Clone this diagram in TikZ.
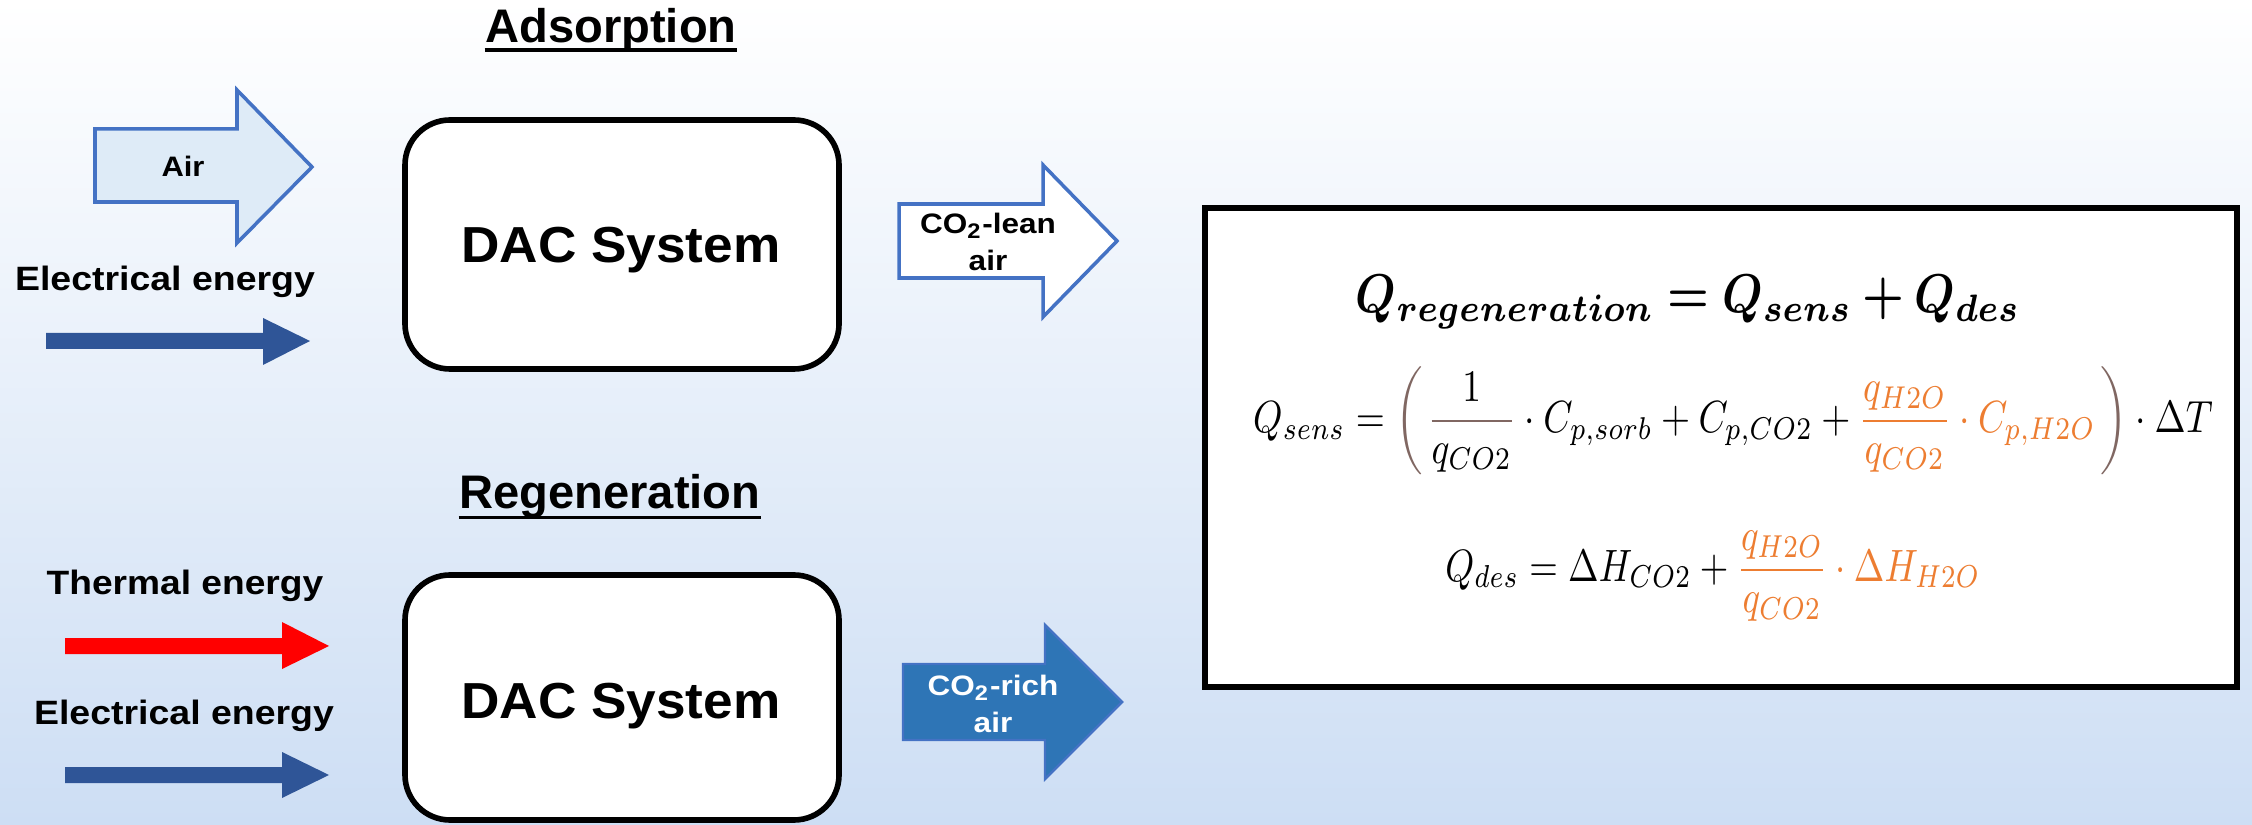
\documentclass[tikz,border=0pt]{standalone}
\usepackage[no-math]{fontspec}
\setmainfont{Liberation Sans}
\usepackage{graphicx}
\usepackage{bm}
\usepackage{xcolor}
\definecolor{bgblue}{RGB}{205,222,244}
\definecolor{airfill}{RGB}{222,235,247}
\definecolor{outblue}{RGB}{68,114,196}
\definecolor{darkblue}{RGB}{47,85,151}
\definecolor{richblue}{RGB}{46,117,182}
\definecolor{orng}{RGB}{237,125,49}
\definecolor{brownc}{RGB}{128,103,98}
\newcommand{\wide}[2]{\scalebox{#1}[1]{#2}}
\begin{document}
\begin{tikzpicture}[x=0.01cm,y=-0.01cm,
  lbl/.style={inner sep=0pt,font=\bfseries},
  titlelbl/.style={lbl,font=\fontsize{13.4}{15}\selectfont\bfseries},
  energylbl/.style={lbl,font=\fontsize{9.6}{11}\selectfont\bfseries},
  dacbox/.style={draw=black,line width=1.6pt,fill=white,rounded corners=0.45cm},
  daclbl/.style={lbl,font=\fontsize{14.4}{16}\selectfont\bfseries},
  smalllbl/.style={lbl,align=center,font=\fontsize{8}{10.5}\selectfont\bfseries},
  hollowarrow/.style={draw=outblue,line width=1pt,line join=miter},
  eqbox/.style={draw=black,line width=1.7pt,fill=white}]
\useasboundingbox (0,0) rectangle (2252,825);
\shade[top color=white,bottom color=bgblue] (0,0) rectangle (2252,825);

% ---------- Adsorption ----------
\node[titlelbl,anchor=base] (tads) at (611,43) {Adsorption};
\draw[line width=0.95pt] ([yshift=-2pt]tads.base west) -- ([yshift=-2pt]tads.base east);

\draw[hollowarrow,fill=airfill] (95,129) -- (237,129) -- (237,90) -- (312,167) -- (237,243) -- (237,202) -- (95,202) -- cycle;
\node[smalllbl,anchor=base] (air) at (183,177) {\wide{1.1}{Air}};

\node[energylbl,anchor=base] (el1) at (165,291) {\wide{1.11}{Electrical energy}};
\fill[darkblue] (46,333) -- (263,333) -- (263,318) -- (310,341) -- (263,365) -- (263,349) -- (46,349) -- cycle;

\draw[dacbox] (405,120) rectangle (839,369);
\node[daclbl,anchor=base] (dac1) at (621,263) {\wide{1.05}{DAC System}};

\draw[hollowarrow,fill=white] (899,204) -- (1043,204) -- (1043,165) -- (1117,241) -- (1043,317) -- (1043,278) -- (899,278) -- cycle;
\node[smalllbl] (lean) at (988,241.5) {\wide{1.12}{CO\textsubscript{2}-lean}\\\wide{1.12}{air}};

% ---------- Regeneration ----------
\node[titlelbl,anchor=base] (treg) at (610,509) {Regeneration};
\draw[line width=0.95pt] ([yshift=-2.5pt]treg.base west) -- ([yshift=-2.5pt]treg.base east);

\node[energylbl,anchor=base] (th) at (185,595) {\wide{1.1}{Thermal energy}};
\fill[red] (65,638) -- (282,638) -- (282,622) -- (329,646) -- (282,669) -- (282,654) -- (65,654) -- cycle;

\node[energylbl,anchor=base] (el2) at (184,724) {\wide{1.11}{Electrical energy}};
\fill[darkblue] (65,767) -- (282,767) -- (282,752) -- (329,775) -- (282,798) -- (282,783) -- (65,783) -- cycle;

\draw[dacbox] (405,575) rectangle (839,820);
\node[daclbl,anchor=base] (dac2) at (621,718) {\wide{1.05}{DAC System}};

\draw[draw=outblue,line width=0.7pt,fill=richblue] (903,664) -- (1045,664) -- (1045,625) -- (1122,702) -- (1045,779) -- (1045,740) -- (903,740) -- cycle;
\node[smalllbl,text=white] (rich) at (993,703.5) {\wide{1.12}{CO\textsubscript{2}-rich}\\\wide{1.12}{air}};

% ---------- Equations ----------
\draw[eqbox] (1205,208) rectangle (2237,687);
\node[inner sep=0pt,anchor=base] (eq1) at (1688,313)
  {\resizebox*{6.64cm}{0.53cm}{$\bm{Q_{regeneration}=Q_{sens}+Q_{des}}$}};
\node[inner sep=0pt] (eq2) at (1733,421)
  {\resizebox*{9.59cm}{1.08cm}{$\displaystyle Q_{sens}=
   {\color{brownc}\left(\vphantom{\frac{q_{H2O}}{q_{CO2}}}\right.}
   {\color{brownc}\frac{\textcolor{black}{1}}{\textcolor{black}{q_{CO2}}}}\cdot C_{p,sorb}+C_{p,CO2}+
   {\color{orng}\frac{q_{H2O}}{q_{CO2}}\cdot C_{p,H2O}}
   {\color{brownc}\left.\vphantom{\frac{q_{H2O}}{q_{CO2}}}\right)}\cdot\Delta T$}};
\node[inner sep=0pt] (eq3) at (1713,576)
  {\resizebox*{5.35cm}{0.90cm}{$\displaystyle Q_{des}=\Delta H_{CO2}+
   {\color{orng}\frac{q_{H2O}}{q_{CO2}}\cdot\Delta H_{H2O}}$}};
\end{tikzpicture}
\end{document}
